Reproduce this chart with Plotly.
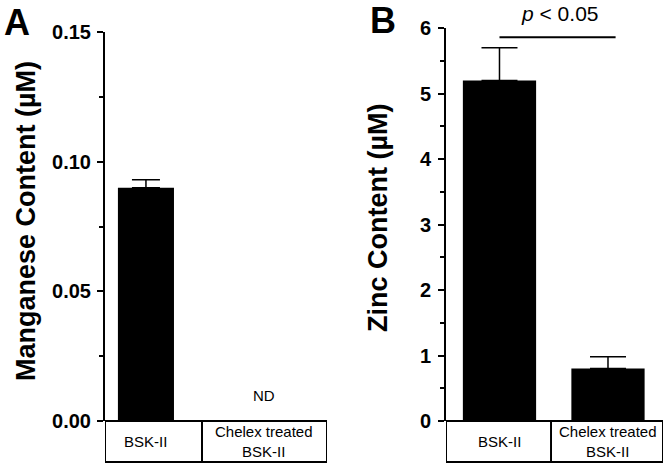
import plotly.graph_objects as go

# ---- data ----
categories = ["BSK-II", "Chelex treated<br>BSK-II"]
mn_values = [0.0899, None]
mn_errors = [0.0031, None]
zn_values = [5.2, 0.8]
zn_errors = [0.5, 0.18]
mn_ticks = [0.0, 0.05, 0.10, 0.15]
zn_ticks = [0, 1, 2, 3, 4, 5, 6]

W, H = 666, 464
FONT = "Liberation Sans, Arial, Helvetica, sans-serif"

def px(x):
    return x / W

def py(y):
    return 1 - y / H

pos = [0, 1]

fig = go.Figure()
fig.add_trace(go.Bar(
    x=pos, y=mn_values, width=0.475, marker=dict(color="black", line=dict(width=0)),
    error_y=dict(type="data", symmetric=False, array=mn_errors, arrayminus=[0, 0],
                 color="black", thickness=1.5, width=14),
    xaxis="x", yaxis="y", showlegend=False))
fig.add_trace(go.Bar(
    x=pos, y=zn_values, width=0.675, marker=dict(color="black", line=dict(width=0)),
    error_y=dict(type="data", symmetric=False, array=zn_errors, arrayminus=[0, 0],
                 color="black", thickness=1.5, width=18),
    xaxis="x2", yaxis="y2", showlegend=False))

axis_common = dict(showline=True, linecolor="black", linewidth=2, showgrid=False,
                   zeroline=False, ticks="outside", ticklen=6, tickwidth=1.5,
                   tickcolor="black", automargin=False,
                   tickfont=dict(family=FONT, size=20, color="black", weight="bold"))
xcommon = dict(showline=False, showgrid=False, zeroline=False, showticklabels=False,
               ticks="", automargin=False)

fig.update_layout(
    template="none",
    width=W, height=H, margin=dict(l=0, r=0, t=0, b=0, pad=0, autoexpand=False),
    plot_bgcolor="white", paper_bgcolor="white",
    font=dict(family=FONT, color="black"),
    xaxis=dict(domain=[px(105), px(327)], range=[-0.347, 1.534], anchor="y", **xcommon),
    yaxis=dict(domain=[py(421), py(32)], range=[0, 0.15], anchor="x",
               tickvals=mn_ticks, tickformat=".2f", ticklabelstandoff=2,
               minor=dict(ticks="outside", ticklen=4, tickwidth=1.5, tickcolor="black", dtick=0.025),
               **axis_common),
    xaxis2=dict(domain=[px(446), px(663)], range=[-0.493, 1.507], anchor="y2", **xcommon),
    yaxis2=dict(domain=[py(421), py(28)], range=[0, 6], anchor="x2",
                tickvals=zn_ticks, ticklabelstandoff=3,
                minor=dict(ticks="outside", ticklen=4, tickwidth=1.5, tickcolor="black", dtick=0.5),
                **axis_common),
)

shapes = []
# category boxes under x axes
for xr, x0, xm, x1 in [("x", -0.347, 0.475, 1.534), ("x2", -0.493, 0.475, 1.507)]:
    shapes.append(dict(type="rect", xref=xr, yref="paper", x0=x0, x1=x1, y0=py(462), y1=py(421),
                       line=dict(color="black", width=2)))
    shapes.append(dict(type="line", xref=xr, yref="paper", x0=xm, x1=xm, y0=py(462), y1=py(421),
                       line=dict(color="black", width=2)))
# significance line
shapes.append(dict(type="line", xref="x2", yref="y2", x0=0, x1=1.07, y0=5.86, y1=5.86,
                   line=dict(color="black", width=2)))
fig.update_layout(shapes=shapes)

def A(**kw):
    d = dict(showarrow=False, xanchor="center", yanchor="middle")
    d.update(kw)
    return d

ann = []
for xr in ["x", "x2"]:
    for p, c in zip(pos, categories):
        ann.append(A(x=p, y=py(441.5), xref=xr, yref="paper", text=c,
                     font=dict(family=FONT, size=15, color="black")))
ann.append(A(x=1, y=0.0097, xref="x", yref="y", text="ND",
             font=dict(family=FONT, size=15, color="black")))
ann.append(A(x=px(26), y=py(221), xref="paper", yref="paper", text="Manganese Content (µM)",
             textangle=-90, font=dict(family=FONT, size=27, color="black", weight="bold")))
ann.append(A(x=px(378), y=py(218), xref="paper", yref="paper", text="Zinc Content (µM)",
             textangle=-90, font=dict(family=FONT, size=27, color="black", weight="bold")))
ann.append(A(x=px(560), y=py(13), xref="paper", yref="paper", text="<i>p</i> < 0.05",
             font=dict(family=FONT, size=21, color="black")))
ann.append(A(x=px(17), y=py(22), xref="paper", yref="paper", text="A",
             font=dict(family=FONT, size=36, color="black", weight="bold")))
ann.append(A(x=px(383), y=py(21), xref="paper", yref="paper", text="B",
             font=dict(family=FONT, size=36, color="black", weight="bold")))
fig.update_layout(annotations=ann)

fig.write_html("out.html", config={"displayModeBar": False},
               post_script="document.body.style.margin='0';document.body.style.padding='0';")
